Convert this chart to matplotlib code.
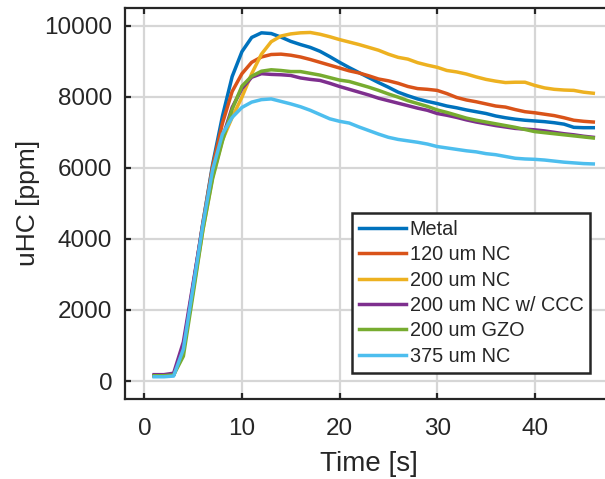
import matplotlib
matplotlib.use("Agg")
import matplotlib.pyplot as plt

plt.rcParams['font.family'] = ['Liberation Sans', 'DejaVu Sans']

time_s = list(range(1, 47))

metal = [150, 150, 170, 900, 2650, 4450, 6100, 7450, 8570, 9270,
         9670, 9800, 9780, 9680, 9560, 9470, 9390, 9280, 9130, 8970,
         8820, 8680, 8540, 8400, 8270, 8130, 8030, 7940, 7870, 7810,
         7740, 7690, 7630, 7580, 7530, 7460, 7410, 7370, 7340, 7320,
         7300, 7270, 7230, 7140, 7130, 7130]
nc_120 = [150, 150, 170, 950, 2700, 4450, 6050, 7250, 8150, 8650,
          8970, 9120, 9190, 9200, 9170, 9120, 9050, 8970, 8890, 8810,
          8730, 8670, 8590, 8500, 8450, 8380, 8290, 8230, 8210, 8180,
          8090, 7980, 7910, 7860, 7800, 7740, 7710, 7640, 7580, 7550,
          7510, 7470, 7410, 7340, 7310, 7290]
nc_200 = [150, 150, 170, 850, 2550, 4250, 5750, 6780, 7420, 7990,
          8650, 9200, 9550, 9710, 9770, 9800, 9810, 9760, 9690, 9610,
          9540, 9470, 9390, 9310, 9200, 9110, 9060, 8960, 8890, 8830,
          8740, 8700, 8640, 8560, 8490, 8440, 8400, 8410, 8410, 8320,
          8250, 8210, 8190, 8180, 8130, 8100]
nc_200_ccc = [180, 180, 220, 1100, 2750, 4400, 5800, 6840, 7700, 8230,
              8550, 8650, 8630, 8620, 8600, 8530, 8490, 8460, 8380, 8290,
              8210, 8130, 8050, 7960, 7890, 7820, 7750, 7680, 7620, 7530,
              7480, 7420, 7350, 7290, 7240, 7190, 7150, 7110, 7090, 7070,
              7040, 7000, 6960, 6930, 6890, 6860]
gzo_200 = [150, 150, 170, 700, 2450, 4250, 5700, 6750, 7650, 8300,
           8580, 8720, 8760, 8740, 8710, 8710, 8660, 8610, 8540, 8470,
           8430, 8350, 8270, 8180, 8080, 7990, 7890, 7810, 7730, 7630,
           7560, 7480, 7400, 7340, 7290, 7240, 7190, 7140, 7080, 7020,
           6990, 6960, 6930, 6900, 6870, 6840]
nc_375 = [120, 120, 140, 900, 2650, 4400, 5950, 6950, 7420, 7700,
          7850, 7920, 7940, 7870, 7800, 7720, 7620, 7500, 7380, 7310,
          7260, 7150, 7050, 6950, 6860, 6800, 6760, 6720, 6670, 6600,
          6560, 6520, 6480, 6450, 6400, 6370, 6320, 6270, 6250, 6240,
          6220, 6190, 6160, 6140, 6120, 6110]

labels = ['Metal', '120 um NC', '200 um NC', '200 um NC w/ CCC',
          '200 um GZO', '375 um NC']
colors = ['#0072BD', '#D95319', '#EDB120', '#7E2F8E', '#77AC30', '#4DBEEE']
series = [metal, nc_120, nc_200, nc_200_ccc, gzo_200, nc_375]

x_ticks = [0, 10, 20, 30, 40]
y_ticks = [0, 2000, 4000, 6000, 8000, 10000]

dark = '#262626'

fig = plt.figure(figsize=(6.05, 4.79), dpi=100)
ax = fig.add_axes([0.2063, 0.1674, 0.8066, 0.816])

for vals, lab, col in zip(series, labels, colors):
    ax.plot(time_s, vals, color=col, linewidth=2.5, label=lab,
            solid_joinstyle='round')

ax.set_xlim(-2, 48)
ax.set_ylim(-500, 10500)
ax.set_xticks(x_ticks)
ax.set_yticks(y_ticks)
ax.grid(True, color='#d6d6d6', linewidth=1.6)
ax.set_axisbelow(True)

for sp in ax.spines.values():
    sp.set_color(dark)
    sp.set_linewidth(1.6)

ax.tick_params(axis='both', direction='in', length=4, width=1.6,
               colors=dark, labelsize=17.5, top=True, right=True)
ax.tick_params(axis='x', pad=14)
ax.tick_params(axis='y', pad=9)

ax.set_xlabel('Time [s]', fontsize=20, color=dark, labelpad=8)
ax.set_ylabel('uHC [ppm]', fontsize=19, color=dark, labelpad=3)

leg = ax.legend(loc='lower right', bbox_to_anchor=(0.954, 0.067),
                borderaxespad=0, fontsize=14.3, fancybox=False,
                handlelength=2.35, handletextpad=0.2, labelspacing=0.32,
                borderpad=0.35, framealpha=1)
leg.get_frame().set_edgecolor(dark)
leg.get_frame().set_linewidth(1.8)
for t in leg.get_texts():
    t.set_color(dark)

fig.savefig('out.png', dpi=100)
